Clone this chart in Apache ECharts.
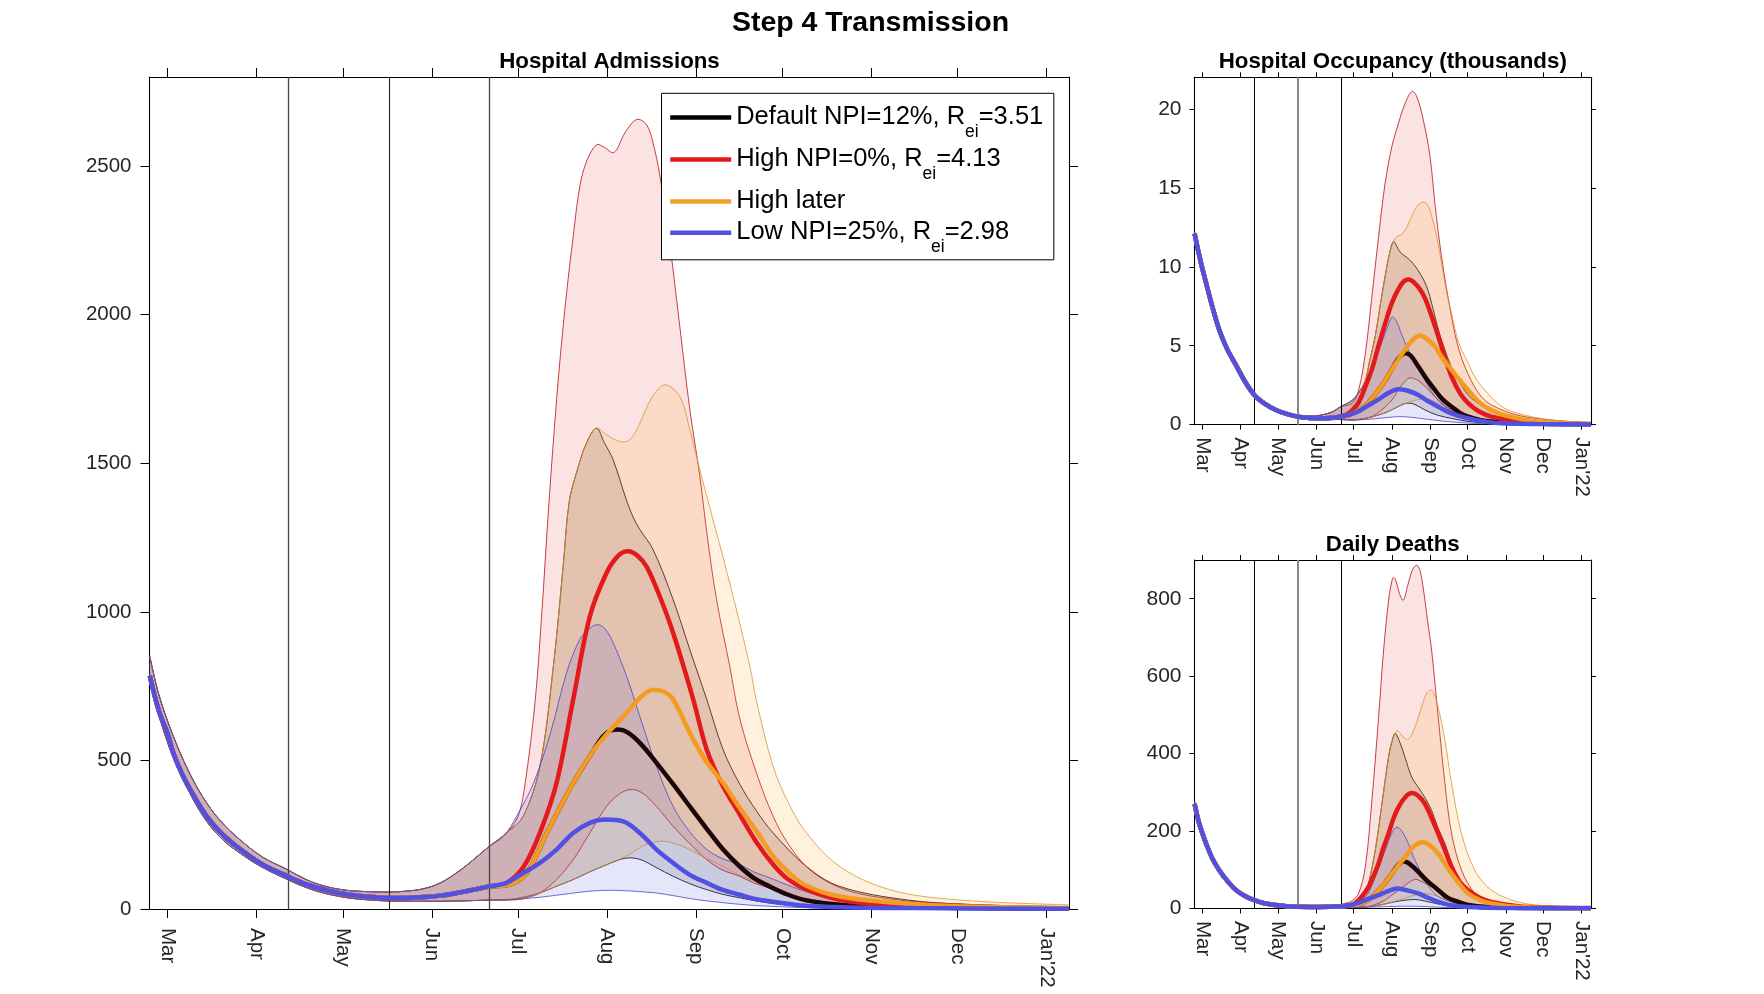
<!DOCTYPE html>
<html><head><meta charset="utf-8">
<script src="https://cdn.jsdelivr.net/npm/echarts@6/dist/echarts.min.js"></script>
<style>html,body{margin:0;padding:0;background:#fff;}#c{width:1764px;height:994px;}</style>
</head><body><div id="c"></div>
<script>
// ---------- DATA (x = days since 1 Mar 2021) ----------
const monthDays = [0,31,61,92,122,153,184,214,245,275,306];
const monthLabels = ['Mar','Apr','May','Jun','Jul','Aug','Sep','Oct','Nov','Dec',"Jan'22"];
const stepDays = [42, 77, 112]; // 12 Apr, 17 May, 21 Jun
const scenarioNames = ['Default NPI=12%, R_ei=3.51','High NPI=0%, R_ei=4.13','High later','Low NPI=25%, R_ei=2.98'];
const admTicks = [0,500,1000,1500,2000,2500];
const occTicks = [0,5,10,15,20];
const dthTicks = [0,200,400,600,800];

// Hospital admissions
const admPreCentral = [[-6.2,785],[-3,665],[0,590],[2,525],[5,455],[8,400],[13.6,312],[19,252],[25.2,202],[33,150],[41.8,110],[48,84],[54.2,66],[60,53],[66,45],[72,40],[77,37],[83,37],[89,40],[95,45],[101.8,56],[107,66],[112,76]];
const admPreUpper = [[-6.2,850],[-3,720],[2,581],[8,450],[13.6,357],[19,290],[25.2,233],[33,175],[41.8,132],[48,100],[54.2,78],[60,66],[66,60],[77,57],[83,60],[89,68],[95,88],[101.8,130],[106,162],[112,211]];
const admPreLower = [[-6.2,765],[-3,650],[2,508],[8,385],[13.6,295],[19,235],[25.2,188],[33,140],[41.8,99],[48,73],[54.2,54],[60,42],[65.8,34],[76.8,27],[89,26],[101,27],[112,30]];
const admDefaultCentral = [[118,80],[125,121],[132,256],[141.2,424],[148,530],[151.5,580],[154,600],[156.9,604],[160,595],[164.4,559],[170.2,492],[176,420],[181.8,345],[187.7,270],[193.4,200],[199.2,143],[204,105],[209.6,76],[216,48],[222,30],[232,16],[245,8],[270,4],[313.7,1.5]];
const admHighCentral = [[118,88],[124,143],[129.6,256],[135.4,424],[141.2,705],[147,985],[152.8,1131],[157,1190],[160.3,1204],[163.5,1190],[166.7,1153],[171,1060],[176,929],[183,705],[187.7,536],[193,420],[199.2,318],[205,225],[210.8,150],[216,100],[222.4,65],[234,31],[250,14],[280,5],[313.7,2]];
const admLaterCentral = [[118,80],[125,121],[132,256],[141.2,424],[148,530],[153,590],[159.8,660],[164.4,710],[169,738],[173,730],[176,705],[183,570],[188,490],[193.4,424],[199.2,340],[205,262],[211,175],[216,125],[222,80],[234,42],[257,18],[280,8],[313.7,3]];
const admLowCentral = [[118,88],[123.8,121],[129.6,155],[135.4,200],[141.2,256],[147,290],[152.2,301],[158.6,295],[164.4,256],[170.2,200],[176,155],[181.8,115],[187.7,88],[193,65],[199.2,48],[204,35],[209.6,26],[220,13],[235,6],[260,3],[313.7,1]];
const admDefaultUpper = [[118,256],[123.8,312],[129.6,480],[134.3,817],[137.7,1153],[139.8,1370],[142.4,1470],[145.9,1570],[149.3,1618],[152,1570],[155.1,1512],[159.7,1377],[162,1320],[164.4,1277],[169,1210],[176,1041],[181.8,873],[187.7,705],[193.4,536],[199.2,420],[205,330],[210.8,256],[222.4,143],[234,76],[257,31],[280,15],[313.7,8]];
const admHighUpper = [[118,256],[122,312],[124.5,425],[128,705],[130.3,1000],[132.5,1330],[134.5,1600],[136.6,1848],[138.9,2073],[141.2,2264],[143.5,2432],[146,2520],[149.3,2572],[151.6,2566],[155.4,2546],[159.2,2612],[163.3,2657],[166.7,2640],[169,2578],[171.4,2466],[174.8,2241],[178.3,1961],[181.8,1681],[185.3,1456],[187.7,1267],[191.1,1041],[195.7,817],[199.2,640],[205,458],[210.8,312],[216,220],[222.4,143],[230,90],[239.8,54],[255,30],[268.8,20],[290,12],[313.7,7]];
const admLaterUpper = [[118,256],[123.8,312],[129.6,480],[134.3,817],[137.7,1153],[139.8,1370],[142.4,1470],[145.9,1570],[149.3,1618],[152.8,1596],[157.5,1573],[160.9,1579],[164.4,1635],[168.5,1720],[173.1,1764],[178.3,1725],[181.8,1613],[185.3,1478],[188.5,1360],[195.7,1097],[202.7,817],[205,700],[210.8,480],[216,360],[222.4,256],[234,143],[251.4,65],[274.6,31],[313.7,14]];
const admLowUpper = [[116.9,244],[121.5,312],[127.4,424],[133.3,593],[138.9,795],[143.5,907],[147,945],[149.9,957],[152.5,940],[155.1,896],[159.8,783],[164.4,648],[170.2,480],[176,345],[181.8,260],[187.7,200],[193,170],[199.2,150],[204,125],[209.6,105],[216,80],[222,60],[240,25],[270,8],[313.7,3]];
const admDefaultLower = [[118,31],[123,38],[129.6,54],[135,75],[141.2,99],[147,125],[152.8,149],[157,165],[160.9,172],[165,165],[170,140],[176,110],[181.8,85],[187.7,65],[193,50],[199,38],[209.6,20],[225,8],[250,3],[313.7,1]];
const admHighLower = [[121.5,31],[125,38],[129.6,54],[135.4,99],[141.2,166],[147,256],[152.8,345],[157,385],[160.9,402],[165,392],[170.2,345],[176,278],[181.8,220],[187.7,166],[193,132],[199.2,110],[204,88],[209.6,70],[215,50],[222,35],[240,12],[270,4],[313.7,1]];
const admLaterLower = [[118,31],[123,38],[129.6,54],[135,75],[141.2,99],[147,125],[152.8,149],[157,165],[161,185],[166,215],[171.4,228],[176,222],[181.8,200],[187,172],[193.4,143],[200,110],[209.6,76],[215,55],[225,30],[240,14],[260,6],[313.7,2]];
const admLowLower = [[118,31],[122,33],[130,40],[140,52],[147,60],[155,63],[162,60],[170,54],[176,45],[182,35],[188,27],[200,15],[210,9],[225,4],[250,2],[313.7,0.5]];

// Hospital occupancy (thousands)
const occPreCentral = [[-6.2,12.1],[-3,10.9],[0,9.9],[3,9.0],[8,7.5],[13.7,6.0],[20,4.8],[27,3.8],[34,2.8],[41.8,1.9],[50,1.35],[59,0.95],[68,0.68],[77,0.51],[86,0.43],[94,0.40],[103,0.43],[111.7,0.51]];
const occPreUpper = [[-6.2,12.2],[0,10.0],[8,7.6],[13.7,6.1],[27,3.9],[41.8,1.97],[59,1.02],[77,0.6],[90,0.55],[100,0.68],[106,0.85],[111.7,1.14]];
const occPreLower = [[-6.2,12.0],[0,9.8],[8,7.4],[13.7,5.9],[27,3.72],[41.8,1.82],[59,0.88],[77,0.45],[90,0.35],[100,0.32],[111.7,0.33]];
const occDefaultCentral = [[118,0.6],[126.2,0.9],[131.6,1.2],[136.9,1.65],[142.3,2.2],[147.6,2.8],[153,3.5],[158.4,4.2],[163.7,4.52],[168,4.4],[174.4,3.68],[181,2.9],[187.8,2.2],[194,1.6],[201.3,1.14],[208,0.75],[214.6,0.51],[224,0.3],[233.4,0.2],[250,0.1],[280,0.05],[313.7,0.03]];
const occHighCentral = [[118,0.72],[122,1.0],[126.2,1.4],[131.6,2.4],[136.9,3.5],[142.3,5.0],[147.6,6.4],[153,7.7],[158.4,8.6],[163,9.1],[166.9,9.2],[171,9.0],[175.5,8.6],[179.8,8.0],[185,6.9],[190.5,5.6],[196,4.2],[201.3,3.04],[208,2.0],[214.6,1.36],[223,0.85],[233.4,0.51],[254.8,0.2],[280,0.08],[313.7,0.04]];
const occLaterCentral = [[118,0.6],[126.2,0.9],[131.6,1.2],[136.9,1.65],[142.3,2.2],[147.6,2.8],[153,3.5],[158.4,4.15],[163.7,4.75],[169,5.3],[175.8,5.65],[181,5.45],[187.8,4.94],[194,4.2],[201.3,3.47],[208,2.8],[214.6,2.2],[224,1.4],[233.4,0.93],[244,0.6],[254.8,0.40],[268,0.22],[281.6,0.13],[313.7,0.05]];
const occLowCentral = [[118,0.62],[126.2,0.85],[134,1.22],[142.3,1.6],[150,2.0],[158.4,2.24],[166,2.15],[174.4,1.88],[182,1.5],[190.5,1.14],[200,0.75],[214.6,0.40],[230,0.18],[241.4,0.09],[270,0.04],[313.7,0.02]];
const occDefaultUpper = [[120.9,1.5],[126,2.0],[131.6,2.8],[135,4.0],[139.6,5.6],[143.5,7.5],[147.6,9.4],[151,10.8],[154.3,11.6],[157,11.3],[160,10.9],[165,10.6],[169.1,10.3],[174,9.8],[179.8,9.0],[183.8,8.1],[187.8,6.85],[191.8,5.7],[195.9,4.73],[201.3,3.6],[206.6,2.83],[214.6,1.9],[222.7,1.36],[235,0.8],[254.8,0.4],[281.6,0.2],[313.7,0.08]];
const occHighUpper = [[120.9,1.35],[126.2,2.2],[131.6,4.5],[136.9,8.1],[142.3,11.9],[147.6,15.3],[153,17.6],[158.4,19.1],[163,20.2],[169.1,21.1],[173,20.8],[178.4,19.3],[183.8,17.0],[187.8,14.0],[193.2,10.6],[201.3,6.8],[207,4.8],[214.6,3.2],[224,1.9],[233.4,1.25],[254.8,0.6],[281.6,0.3],[313.7,0.12]];
const occLaterUpper = [[120.9,1.5],[126,2.0],[131.6,2.8],[135,4.0],[139.6,5.6],[143.5,7.5],[147.6,9.4],[151,10.8],[154.3,11.6],[157,11.9],[160,12.0],[163.7,12.3],[168,13.0],[173,13.8],[178.4,14.1],[182,13.9],[185.2,13.2],[189,12.0],[193.2,10.2],[197,8.5],[201.3,7.0],[207,5.2],[214.6,3.9],[221,2.9],[228,2.2],[241,1.2],[254.8,0.72],[281.6,0.3],[313.7,0.13]];
const occLowUpper = [[120.9,1.56],[126,2.0],[131.6,2.62],[135.5,3.3],[139.6,4.1],[143.5,4.9],[147.6,5.8],[150.5,6.4],[153.5,6.83],[157,6.5],[161,5.7],[166,4.8],[171.8,3.9],[179.8,2.83],[185,2.1],[190.5,1.56],[198,1.1],[206.6,0.72],[225,0.3],[250,0.1],[313.7,0.03]];
const occDefaultLower = [[120,0.3],[126.2,0.33],[137,0.5],[147.6,0.75],[157,1.1],[162,1.3],[166.4,1.36],[171,1.3],[179.8,0.93],[190,0.6],[201.3,0.4],[215,0.2],[240,0.07],[313.7,0.02]];
const occHighLower = [[120.9,0.3],[128,0.36],[136.9,0.51],[145,0.95],[153,1.56],[160,2.4],[166.9,2.95],[173,2.85],[179.8,2.43],[188,1.75],[195.9,1.14],[205,0.7],[214.6,0.4],[230,0.18],[260,0.05],[313.7,0.02]];
const occLaterLower = [[120,0.3],[126.2,0.33],[137,0.5],[147.6,0.75],[157,1.1],[166,1.4],[174.4,1.6],[180,1.62],[185,1.55],[190.5,1.36],[201.3,0.95],[214.6,0.5],[230,0.25],[250,0.12],[313.7,0.03]];
const occLowLower = [[125,0.3],[140,0.38],[150,0.46],[158.4,0.51],[167,0.48],[180,0.36],[195,0.22],[215,0.1],[240,0.04],[313.7,0.01]];

// Daily deaths
const dthPreCentral = [[-6.2,270],[-3,225],[0,195],[3,168],[8,130],[13.7,99],[20,72],[27,48],[34,33],[41.8,21.6],[50,13.5],[59.2,8.8],[68,6],[76.7,4.4],[94,4],[111.7,5]];
const dthPreUpper = [[-6.2,276],[0,200],[13.7,102],[27,50],[41.8,23],[59,10],[77,5.5],[94,5.5],[103,7],[111.7,10]];
const dthPreLower = [[-6.2,264],[0,190],[13.7,96],[27,46],[41.8,20.5],[59,8],[77,3.5],[94,3],[103,3],[111.7,3]];
const dthDefaultCentral = [[118,7],[126.2,10],[131.6,17],[136.9,30],[142.3,47],[147.6,67],[153,90],[156,104],[159,115],[162.4,122],[166,118],[170,108],[174.4,94.5],[182,70],[190.5,47.4],[198,28],[206.6,17.3],[215,9],[230,4],[260,1.5],[313.7,0.5]];
const dthHighCentral = [[118,7],[122,11],[126.2,21.6],[130,36],[134.2,56],[138,82],[142.3,116],[146,155],[150.3,193],[154,230],[158.4,262],[164,288],[169.1,298],[174,292],[179.8,270],[185,235],[190.5,193],[196,150],[201.3,107],[208,68],[214.6,47],[224,28],[233.4,17],[254.8,6],[280,2.5],[313.7,1]];
const dthLaterCentral = [[118,7],[126.2,10],[131.6,17],[136.9,30],[142.3,47],[147.6,67],[153,90],[158.4,112],[163.7,133],[169,155],[174,168],[178.4,171],[184,162],[190.5,141.8],[196,115],[201.3,90],[208,62],[214.6,38.9],[224,22],[233.4,13.1],[254.8,4],[313.7,0.8]];
const dthLowCentral = [[118,7],[126.2,14.7],[134,25],[142.3,34.5],[150,45],[157,51.7],[165,47],[174.4,38.9],[182,28],[190.5,17.3],[200,9],[214.6,4],[240,1.5],[313.7,0.5]];
const dthDefaultUpper = [[116,11],[120,12],[126.2,21.6],[131.6,40],[134.2,64.6],[139.6,150],[145,270],[150.3,390],[153,430],[155.7,452],[160,425],[163.7,390],[169.1,339],[174.4,313],[180,285],[185.2,253],[190,210],[195.9,167.6],[201,120],[206.6,81.6],[213,50],[220,30],[235,12],[260,4],[313.7,1]];
const dthHighUpper = [[116,14],[120.9,20],[126.2,39],[131.6,107],[136.9,279],[142.3,493],[146.3,665],[150.3,794],[152.5,838],[154.3,855],[156.5,845],[159,815],[162.2,796],[165.5,830],[169,870],[171.5,883],[173.6,886],[176,870],[178,835],[179.8,794],[182,740],[185.2,665],[190.5,493],[195.9,322],[201.3,193],[209.3,99],[220,39],[230,20],[241.4,13],[260,6],[313.7,1.5]];
const dthLaterUpper = [[116,11],[120,12],[126.2,21.6],[131.6,40],[134.2,64.6],[139.6,150],[145,270],[150.3,390],[153,430],[157,459],[160,452],[163,440],[166.4,438],[170,455],[174,490],[178,530],[181,555],[184.4,564],[187,555],[190.5,519],[195.9,433.5],[201.3,322],[209.3,193],[220,98.8],[233.4,47.4],[254.8,17],[281.6,6],[313.7,2]];
const dthLowUpper = [[120,14],[126,20],[131.6,30],[135.6,50],[139.6,81.6],[143.6,115],[147.6,150],[153,195],[157,210],[161,200],[166.4,167.6],[170,137],[174.4,107],[180,70],[185.2,47],[192,28],[201.3,17],[215,7],[240,2],[313.7,0.5]];
const dthDefaultLower = [[125,3],[135,5],[145,10],[155,17],[163,21],[171.8,23.2],[180,19],[190,12],[205,5],[230,1.5],[313.7,0.3]];
const dthHighLower = [[125,3.2],[135,6],[145,17],[152,32],[158.4,47],[165,63],[171.8,75],[178,68],[185.2,56],[192,38],[201.3,21.6],[212,10],[230,4],[313.7,0.5]];
const dthLaterLower = [[125,3],[135,5],[145,10],[155,18],[165,28],[172,35],[179.8,39],[186,36],[195,26],[205,15],[220,6],[250,2],[313.7,0.5]];
const dthLowLower = [[125,3],[140,4],[150,5],[165,6],[180,5],[200,2],[230,0.7],[313.7,0.3]];

// ---------- STYLE / LAYOUT ----------
const FONT = "'Liberation Sans', Arial, Helvetica, sans-serif";
const X_MIN = -6.3, X_MAX = 313.8;
const SM = 0.35;
const STY = [
  {line:'#1c0707', fill:'rgba(0,0,0,0.12)', edge:'#000000', icon:'#000000'},
  {line:'#e3191c', fill:'rgba(232,26,28,0.12)', edge:'#b81216', icon:'#e3191c'},
  {line:'#f39c1f', fill:'rgba(245,160,30,0.14)', edge:'#dc9330', icon:'#f0a028'},
  {line:'#5050e2', fill:'rgba(80,80,226,0.14)', edge:'#4848c8', icon:'#5050e2'}
];
const panels = [
  {grid:{left:149.5, top:77, width:919.5, height:832}, ymax:2800, ticks:admTicks, tickLen:9, lblMargin:18, xLblMargin:19, fs:20.5, lw:4.5,
   pre:[admPreCentral, admPreLower, admPreUpper],
   central:[admDefaultCentral, admHighCentral, admLaterCentral, admLowCentral],
   lower:[admDefaultLower, admHighLower, admLaterLower, admLowLower],
   upper:[admDefaultUpper, admHighUpper, admLaterUpper, admLowUpper], vcol:['#444','#222','#444'], vw:[1.3,1.1,1.3]},
  {grid:{left:1194.5, top:77.3, width:396.5, height:347.4}, ymax:22, ticks:occTicks, tickLen:5, lblMargin:13, xLblMargin:12.5, fs:21, lw:4.5,
   pre:[occPreCentral, occPreLower, occPreUpper],
   central:[occDefaultCentral, occHighCentral, occLaterCentral, occLowCentral],
   lower:[occDefaultLower, occHighLower, occLaterLower, occLowLower],
   upper:[occDefaultUpper, occHighUpper, occLaterUpper, occLowUpper], vcol:['#000','#888','#000'], vw:[1,2,1]},
  {grid:{left:1194.5, top:560, width:396.5, height:348.5}, ymax:900, ticks:dthTicks, tickLen:5, lblMargin:13, xLblMargin:12.5, fs:21, lw:4.5,
   pre:[dthPreCentral, dthPreLower, dthPreUpper],
   central:[dthDefaultCentral, dthHighCentral, dthLaterCentral, dthLowCentral],
   lower:[dthDefaultLower, dthHighLower, dthLaterLower, dthLowLower],
   upper:[dthDefaultUpper, dthHighUpper, dthLaterUpper, dthLowUpper], vcol:['#000','#888','#000'], vw:[1,2,1]}
];

const grids = [], xAxes = [], yAxes = [], series = [];
const monthFmt = v => { const i = monthDays.indexOf(Math.round(v)); return i >= 0 ? monthLabels[i] : ''; };
panels.forEach((p, gi) => {
  grids.push(Object.assign({containLabel:false, outerBoundsMode:'none'}, p.grid));
  const axLine = {show:true, onZero:false, lineStyle:{color:'#000', width:1.1}};
  const xBase = {type:'value', gridIndex:gi, min:X_MIN, max:X_MAX, splitLine:{show:false}, axisLine:axLine};
  xAxes.push(Object.assign({}, xBase, {position:'bottom',
    axisTick:{show:true, inside:false, length:p.tickLen, customValues:monthDays, lineStyle:{color:'#000', width:1}},
    axisLabel:{show:true, customValues:monthDays, formatter:monthFmt, rotate:-90, fontSize:20.5, fontFamily:FONT, color:'#262626', margin:p.xLblMargin}}));
  xAxes.push(Object.assign({}, xBase, {position:'top',
    axisTick:{show:true, inside:false, length:p.tickLen, customValues:monthDays, lineStyle:{color:'#000', width:1}},
    axisLabel:{show:false}}));
  const yBase = {type:'value', gridIndex:gi, min:0, max:p.ymax, splitLine:{show:false}, axisLine:axLine};
  yAxes.push(Object.assign({}, yBase, {position:'left',
    axisTick:{show:true, inside:false, length:p.tickLen, customValues:p.ticks, lineStyle:{color:'#000', width:1}},
    axisLabel:{show:true, customValues:p.ticks, formatter:v => String(v), fontSize:p.fs, fontFamily:FONT, color:'#262626', margin:p.lblMargin}}));
  yAxes.push(Object.assign({}, yBase, {position:'right',
    axisTick:{show:true, inside:false, length:p.tickLen, customValues:p.ticks, lineStyle:{color:'#000', width:1}},
    axisLabel:{show:false}}));
  const xi = gi * 2, yi = gi * 2;
  // bands (fill + thin edges) through the axes' own scales
  const bands = [0,1,2,3].map(s => ({
    upper: p.pre[2].concat(p.upper[s]),
    lower: p.pre[1].concat(p.lower[s]),
    sty: STY[s]
  }));
  series.push({
    type:'custom', xAxisIndex:xi, yAxisIndex:yi, clip:true, silent:true, z:1, animation:false,
    data: bands.map((b, i) => [i, 0]),
    renderItem: function (params, api) {
      const b = bands[params.dataIndex];
      const up = b.upper.map(pt => api.coord(pt));
      const lo = b.lower.map(pt => api.coord(pt));
      const poly = up.concat(lo.slice().reverse());
      return {type:'group', children:[
        {type:'polygon', shape:{points:poly, smooth:SM}, style:{fill:b.sty.fill, stroke:null}},
        {type:'polyline', shape:{points:up, smooth:SM}, style:{fill:null, stroke:b.sty.edge, lineWidth:0.8}},
        {type:'polyline', shape:{points:lo, smooth:SM}, style:{fill:null, stroke:b.sty.edge, lineWidth:0.8}}
      ]};
    }
  });
  // step date lines
  series.push({
    type:'line', xAxisIndex:xi, yAxisIndex:yi, data:[[stepDays[0], 0]], symbol:'none', showSymbol:false,
    lineStyle:{width:0}, silent:true, z:2, animation:false,
    markLine:{silent:true, symbol:['none','none'], label:{show:false}, animation:false,
      data: stepDays.map((d, k) => ({xAxis:d, lineStyle:{color:p.vcol[k], width:p.vw[k], type:'solid'}}))}
  });
  // central lines
  [0,1,2,3].forEach(s => {
    series.push({
      type:'line', name:scenarioNames[s], xAxisIndex:xi, yAxisIndex:yi,
      data: p.pre[0].concat(p.central[s]), smooth:SM, symbol:'none', showSymbol:false,
      lineStyle:{color:STY[s].line, width:p.lw}, itemStyle:{color:STY[s].icon}, color:STY[s].icon,
      z:3 + s, silent:true, animation:false
    });
  });
});

const chart = echarts.init(document.getElementById('c'), null, {renderer:'canvas'});
chart.setOption({
  animation:false,
  backgroundColor:'#fff',
  grid:grids, xAxis:xAxes, yAxis:yAxes, series:series,
  legend:{
    orient:'vertical', left:661.5, top:93.3, padding:[10.6,10.6,3.6,8.7], itemGap:5.1,
    itemWidth:61, itemHeight:4.5, icon:'rect', selectedMode:false,
    backgroundColor:'#fff', borderColor:'#000', borderWidth:1, borderRadius:0,
    data: scenarioNames.map((n, s) => ({name:n, itemStyle:{color:STY[s].icon}})),
    formatter: function (name) {
      const i = name.indexOf('R_ei');
      if (i < 0) return '{t|' + name + '}';
      return '{t|' + name.slice(0, i) + 'R}{s|ei}{t|' + name.slice(i + 4) + '}';
    },
    textStyle:{fontFamily:FONT, fontSize:25.5, color:'#000',
      rich:{
        t:{fontFamily:FONT, fontSize:25.5, lineHeight:27, color:'#000', verticalAlign:'top'},
        s:{fontFamily:FONT, fontSize:17.5, lineHeight:17, color:'#000', verticalAlign:'top', padding:[19,0,0,0]}
      }}
  },
  graphic:[
    {type:'text', x:870.5, y:23, silent:true, style:{text:'Step 4 Transmission', font:'bold 28.5px ' + FONT, fill:'#000', align:'center', verticalAlign:'middle', textAlign:'center', textVerticalAlign:'middle'}},
    {type:'text', x:609.5, y:61.5, silent:true, style:{text:'Hospital Admissions', font:'bold 22.3px ' + FONT, fill:'#000', align:'center', verticalAlign:'middle', textAlign:'center', textVerticalAlign:'middle'}},
    {type:'text', x:1392.75, y:61.5, silent:true, style:{text:'Hospital Occupancy (thousands)', font:'bold 22.3px ' + FONT, fill:'#000', align:'center', verticalAlign:'middle', textAlign:'center', textVerticalAlign:'middle'}},
    {type:'text', x:1392.75, y:544.5, silent:true, style:{text:'Daily Deaths', font:'bold 22.3px ' + FONT, fill:'#000', align:'center', verticalAlign:'middle', textAlign:'center', textVerticalAlign:'middle'}}
  ]
});
</script>
</body></html>
